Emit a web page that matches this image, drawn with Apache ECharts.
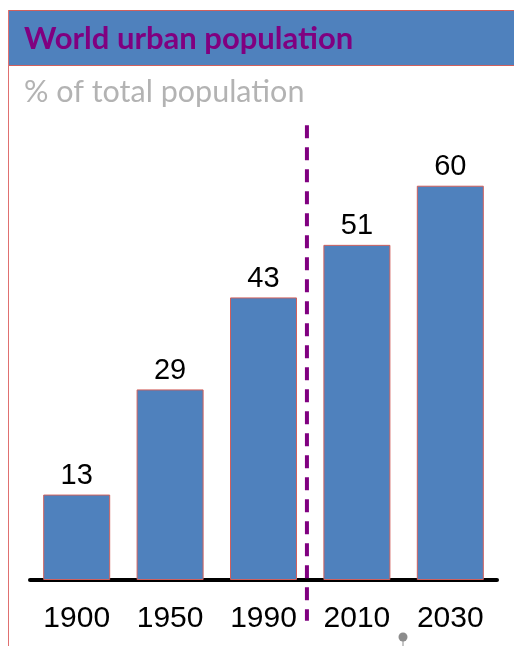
<!DOCTYPE html>
<html><head><meta charset="utf-8">
<script src="https://cdn.jsdelivr.net/npm/echarts@6/dist/echarts.min.js"></script>
<style>html,body{margin:0;padding:0;background:#fff}#c{width:514px;height:646px}</style>
</head><body><div id="c"></div>
<script>
var categories = ['1900', '1950', '1990', '2010', '2030'];
var urbanShare = [13, 29, 43, 51, 60];
var dividerX = [2.965];
var dividerY = [69.2, -6.2];

var chart = echarts.init(document.getElementById('c'), null, {renderer: 'canvas'});
chart.setOption({
  animation: false,
  grid: {left: 30, right: 17, top: 120, bottom: 66},
  xAxis: [{
    type: 'category', data: categories,
    axisLine: {lineStyle: {color: '#000', width: 4, cap: 'round'}},
    axisTick: {show: false},
    axisLabel: {color: '#000', fontSize: 30, fontFamily: 'Liberation Sans', margin: 24}
  }, {
    type: 'value', min: 0, max: 5, show: false
  }],
  yAxis: {type: 'value', min: 0, max: 70, show: false},
  series: [{
    type: 'bar', data: urbanShare, barWidth: 67,
    itemStyle: {color: '#4f81bd', borderColor: '#d0605d', borderWidth: 1},
    label: {show: true, position: 'top', distance: 4, color: '#000', fontSize: 29, fontFamily: 'Liberation Sans'}
  }, {
    type: 'custom', xAxisIndex: 1, clip: false, silent: true,
    data: [[dividerX[0], dividerY[0], dividerY[1]]],
    renderItem: function (params, api) {
      var p1 = api.coord([api.value(0), api.value(1)]);
      var p2 = api.coord([api.value(0), api.value(2)]);
      return {type: 'line', shape: {x1: p1[0], y1: p1[1], x2: p2[0], y2: p2[1]},
        style: {stroke: '#800080', lineWidth: 4, lineDash: [13, 9]}};
    }
  }],
  graphic: [
    {type: 'rect', left: 8, top: 10, shape: {width: 520, height: 55}, style: {fill: '#4f81bd', stroke: '#d0605d', lineWidth: 1}, z: -1},
    {type: 'line', shape: {x1: 8.5, y1: 10, x2: 8.5, y2: 646}, style: {stroke: '#e07070', lineWidth: 1}},
    {type: 'text', left: 24, top: 23, style: {text: 'World urban population', fill: '#800080', font: 'bold 31px Lato'}},
    {type: 'text', left: 24, top: 77, style: {text: '% of total population', fill: '#b3b3b3', font: '30.5px Lato'}},
    {type: 'circle', shape: {cx: 403, cy: 637, r: 4.5}, style: {fill: '#8c8c8c'}},
    {type: 'line', shape: {x1: 403, y1: 640, x2: 403, y2: 646}, style: {stroke: '#8c8c8c', lineWidth: 1}}
  ]
});
</script></body></html>
